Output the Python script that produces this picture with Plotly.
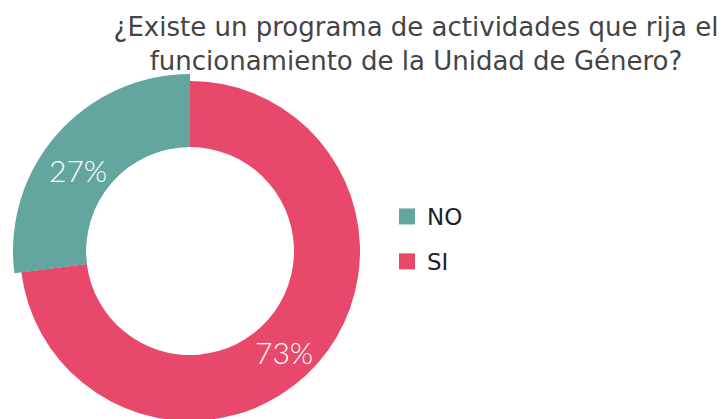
import math
import plotly.graph_objects as go

labels = ["NO", "SI"]
values = [27, 73]
colors = ["#62A69F", "#E8486A"]
title_text = "¿Existe un programa de actividades que rija el<br>funcionamiento de la Unidad de Género?"

W, H = 723, 440
cx, cy = 190, 251
r_big, r_small, r_in = 177, 170, 104

def dom(r):
    return dict(x=[(cx - r) / W, (cx + r) / W], y=[1 - (cy + r) / H, 1 - (cy - r) / H])

# draw clockwise starting at 12 o'clock with SI first so NO sits on the left
lab_r = labels[::-1]
val_r = values[::-1]
col_r = colors[::-1]

txtfont = dict(color="white", size=30, family="Lato", weight=300)

fig = go.Figure()
fig.add_trace(go.Pie(
    labels=lab_r, values=val_r, sort=False, direction="clockwise", rotation=0,
    marker=dict(colors=col_r, line=dict(width=0)),
    hole=r_in / r_small, domain=dom(r_small),
    textinfo="none", showlegend=False, hoverinfo="label+percent",
))
fig.add_trace(go.Pie(
    labels=lab_r, values=val_r, sort=False, direction="clockwise", rotation=0,
    marker=dict(colors=["rgba(0,0,0,0)", col_r[1]], line=dict(width=0)),
    hole=r_in / r_big, domain=dom(r_big),
    textinfo="none", showlegend=False, hoverinfo="label+percent",
))
for lab, col in zip(labels, colors):
    fig.add_trace(go.Scatter(
        x=[None], y=[None], mode="markers", name=lab,
        marker=dict(symbol="square", size=16, color=col),
        legendgroup=lab, showlegend=True,
    ))

# percentage labels placed at each slice's mid-angle (computed from the data)
total = sum(val_r)
start = 0.0
r_txt = (r_in + r_small) / 2
for lab, v in zip(lab_r, val_r):
    mid = start + v / total * 180.0
    start += v / total * 360.0
    px = cx + r_txt * math.sin(math.radians(mid))
    py = cy - r_txt * math.cos(math.radians(mid))
    fig.add_annotation(x=px / W, y=1 - py / H, xref="paper", yref="paper",
                       text=f"{round(v / total * 100)}%", showarrow=False,
                       font=txtfont, xanchor="center", yanchor="middle",
                       xshift=-9, yshift=-10)

fig.update_layout(
    width=W, height=H,
    margin=dict(l=0, r=0, t=0, b=0),
    paper_bgcolor="white", plot_bgcolor="white",
    xaxis=dict(visible=False), yaxis=dict(visible=False),
    title=dict(text=title_text, x=416 / W, xanchor="center", y=1 - 36 / H, yanchor="top",
               yref="container", font=dict(family="DejaVu Sans", size=26, color="#444444")),
    legend=dict(x=387 / W, xanchor="left", y=1 - 195 / H, yanchor="top",
                font=dict(family="DejaVu Sans", size=23, color="#222222"),
                tracegroupgap=12, itemwidth=30, bgcolor="rgba(0,0,0,0)"),
)

fig.write_html("out.html", config={"displayModeBar": False},
               post_script="document.body.style.margin='0';document.body.style.overflow='hidden';document.documentElement.style.overflow='hidden';")
